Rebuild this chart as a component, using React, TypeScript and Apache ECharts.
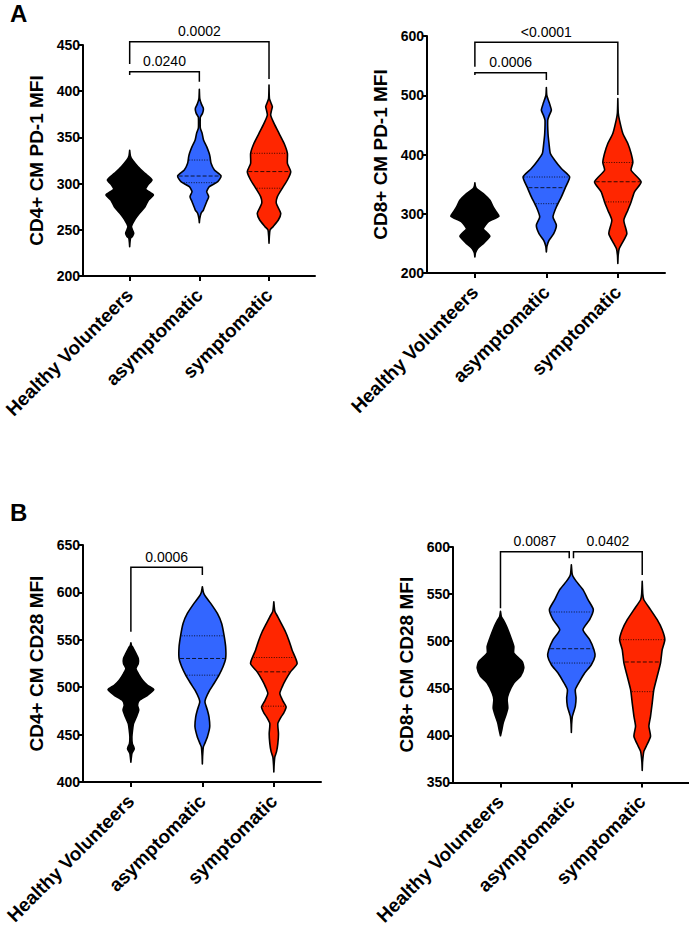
import { useEffect, useRef } from "react";
import * as echarts from "echarts";

const CATEGORIES = ["Healthy Volunteers", "asymptomatic", "symptomatic"];
const COLORS = ["#000000", "#3366FF", "#FF2600"];
const FONT = "'Liberation Sans', Arial, Helvetica, sans-serif";

// violin profiles: [value, half-width in category units], top to bottom
// Panel A left: CD4+ CM PD-1 MFI
const A1_HV = [[336,0],[330,0.01],[325.5,0.04],[318.3,0.12],[311,0.22],[304,0.32],[298.5,0.26],[293.8,0.23],[287.7,0.34],[282.3,0.27],[275,0.22],[267.8,0.14],[260.6,0.07],[253.4,0.025],[249,0.045],[246.2,0.058],[243,0.04],[240.8,0.012],[236,0.004],[231.7,0]];
const A1_ASYM = [[402,0],[392,0.006],[386,0.03],[382,0.055],[379.7,0.058],[376,0.045],[372,0.015],[368.8,0.012],[360,0.014],[354.4,0.04],[347.2,0.06],[340,0.105],[333,0.14],[329.1,0.153],[321.9,0.168],[314.7,0.216],[308.2,0.312],[302.1,0.264],[296.7,0.144],[291.3,0.105],[285.9,0.134],[280.4,0.105],[271.4,0.058],[267.8,0.024],[262,0.006],[257.7,0]];
const A1_SYM = [[406.7,0],[392,0.006],[386,0.035],[383.3,0.048],[379,0.035],[374.2,0.024],[365.2,0.072],[354.4,0.144],[343.6,0.216],[332.8,0.264],[321.9,0.264],[312.9,0.312],[303.9,0.264],[294.9,0.19],[285.9,0.12],[278.6,0.105],[267.8,0.168],[260.6,0.134],[253.4,0.058],[249.8,0.015],[243,0.005],[235.4,0]];
const A1_QUARTILES = [null, [301, 308.2, 325.5], [295, 313, 332.8]];
const A1_BRACKETS = [[0, 2, 453.6, 429.4, 413.2], [0, 1, 421.1, 417.5, 410.3]];
const A1_PVALUES = ["0.0002", "0.0240"];

// Panel A right: CD8+ CM PD-1 MFI
const A2_HV = [[352.1,0],[347,0.006],[342.5,0.023],[334.1,0.117],[322.8,0.21],[311.5,0.256],[303,0.3],[295.8,0.336],[286.2,0.186],[274.9,0.117],[268,0.17],[262,0.21],[256,0.17],[249.6,0.117],[241.1,0.037],[234,0.008],[227,0]];
const A2_ASYM = [[513.2,0],[500,0.006],[485,0.047],[474.9,0.07],[466,0.04],[458,0.019],[435.5,0.023],[418.6,0.037],[401.7,0.056],[390.4,0.117],[376.3,0.21],[362.3,0.326],[345.4,0.27],[328.5,0.21],[311.5,0.14],[294.6,0.093],[280.6,0.14],[266.5,0.103],[255.2,0.037],[245,0.008],[235.5,0]];
const A2_SYM = [[494.6,0],[470,0.006],[458,0.023],[435.5,0.07],[418.6,0.14],[401.7,0.186],[386.5,0.21],[373.5,0.186],[353.8,0.326],[336.9,0.233],[320,0.186],[306,0.14],[289,0.084],[266.5,0.126],[249.6,0.056],[241.1,0.019],[230,0.005],[216,0]];
const A2_QUARTILES = [null, [317, 344, 362], [320, 354, 386.5]];
const A2_BRACKETS = [[0, 2, 589.4, 548.2, 500.4], [0, 1, 538.1, 534.2, 525.7]];
const A2_PVALUES = ["<0.0001", "0.0006"];

// Panel B left: CD4+ CM CD28 MFI
const B1_HV = [[546.8,0],[544,0.008],[542.6,0.023],[535.6,0.07],[530.3,0.103],[525,0.103],[519.7,0.07],[514.4,0.103],[507.4,0.163],[502,0.233],[497.5,0.32],[491.5,0.233],[486,0.117],[481,0.093],[476,0.11],[470,0.084],[461.6,0.037],[454.6,0.023],[447.5,0.014],[440.5,0.02],[435.2,0.047],[430,0.014],[421,0]];
const B1_ASYM = [[606,0],[600,0.015],[595.4,0.047],[588.4,0.117],[577.8,0.21],[567.3,0.27],[555,0.303],[542.6,0.326],[530.3,0.326],[521.5,0.289],[512.7,0.233],[503.9,0.163],[496.8,0.103],[488,0.047],[484,0.037],[476,0.07],[468.7,0.093],[458,0.103],[447.5,0.07],[440.5,0.033],[437,0.014],[428,0.004],[419,0]];
const B1_SYM = [[590,0],[580,0.015],[574.3,0.056],[567.3,0.103],[558.5,0.163],[549.6,0.21],[539,0.256],[525,0.326],[516.2,0.233],[507.4,0.163],[500.4,0.117],[493.3,0.084],[485,0.13],[479.2,0.172],[473,0.14],[468.7,0.103],[461.6,0.056],[451,0.065],[440.5,0.056],[431.7,0.037],[426.4,0.014],[418,0.004],[410.6,0]];
const B1_QUARTILES = [null, [512.7, 530.3, 554.2], [480, 516.2, 531.3]];
const B1_BRACKETS = [[0, 1, 626.5, 558.5, 618.4]];
const B1_PVALUES = ["0.0006"];

// Panel B right: CD8+ CM CD28 MFI
const B2_HV = [[531.7,0],[526,0.012],[522.8,0.038],[515.8,0.085],[505.1,0.14],[494.5,0.188],[487.4,0.188],[478.5,0.305],[471.5,0.329],[462.7,0.282],[455.6,0.188],[445,0.117],[437.9,0.094],[429,0.103],[420.2,0.07],[413.1,0.038],[406,0.019],[399.6,0]];
const B2_ASYM = [[581.2,0],[572,0.01],[568.8,0.023],[563.5,0.07],[554.7,0.164],[544.1,0.235],[533.5,0.31],[522.8,0.258],[512.2,0.164],[501.6,0.258],[491,0.319],[483.9,0.333],[475,0.282],[466.2,0.188],[457.3,0.117],[448.5,0.056],[439.6,0.066],[430.8,0.056],[423.7,0.028],[420.2,0.014],[412,0.004],[403.2,0]];
const B2_SYM = [[563.5,0],[550,0.008],[544,0.023],[533.5,0.117],[522.8,0.211],[512.2,0.282],[501.6,0.319],[491,0.282],[476.8,0.258],[462.7,0.211],[448.5,0.164],[434.3,0.141],[420.2,0.117],[409.6,0.094],[399,0.117],[388.3,0.056],[383,0.023],[372,0.005],[362.8,0]];
const B2_QUARTILES = [null, [476.8, 492, 531], [446.4, 477.9, 501.6]];
const B2_BRACKETS = [[0, 0.97, 595, 535.1, 588], [1.03, 2, 595, 588, 570.3]];
const B2_PVALUES = ["0.0087", "0.0402"];

const Y_TITLES = ["CD4+ CM PD-1 MFI", "CD8+ CM PD-1 MFI", "CD4+ CM CD28 MFI", "CD8+ CM CD28 MFI"];
const Y_RANGES = [[200, 450, 50], [200, 600, 100], [400, 650, 50], [350, 600, 50]];

const PANELS = [
  { grid: { left: 83, top: 45, width: 232, height: 231 }, violins: [A1_HV, A1_ASYM, A1_SYM], quartiles: A1_QUARTILES, brackets: A1_BRACKETS, pvalues: A1_PVALUES },
  { grid: { left: 427, top: 36, width: 238, height: 237 }, violins: [A2_HV, A2_ASYM, A2_SYM], quartiles: A2_QUARTILES, brackets: A2_BRACKETS, pvalues: A2_PVALUES },
  { grid: { left: 83, top: 545, width: 238, height: 237 }, violins: [B1_HV, B1_ASYM, B1_SYM], quartiles: B1_QUARTILES, brackets: B1_BRACKETS, pvalues: B1_PVALUES },
  { grid: { left: 453, top: 547, width: 236, height: 236 }, violins: [B2_HV, B2_ASYM, B2_SYM], quartiles: B2_QUARTILES, brackets: B2_BRACKETS, pvalues: B2_PVALUES },
];

function widthAt(prof: number[][], v: number): number {
  for (let k = 0; k < prof.length - 1; k++) {
    const [v1, w1] = prof[k];
    const [v2, w2] = prof[k + 1];
    if ((v <= v1 && v >= v2) || (v >= v1 && v <= v2)) {
      if (v1 === v2) return Math.max(w1, w2);
      return w1 + ((v - v1) / (v2 - v1)) * (w2 - w1);
    }
  }
  return 0;
}

function buildOption() {
  const grids: any[] = [];
  const xAxes: any[] = [];
  const yAxes: any[] = [];
  const series: any[] = [];
  PANELS.forEach((p, pi) => {
    grids.push({ ...p.grid, containLabel: false });
    xAxes.push({
      type: "value",
      gridIndex: pi,
      min: -0.67,
      max: 2.66,
      splitLine: { show: false },
      axisLine: { show: true, onZero: false, lineStyle: { color: "#000", width: 2 } },
      axisTick: { show: true, customValues: [0, 1, 2], length: 5, lineStyle: { color: "#000", width: 2 } },
      axisLabel: {
        show: true,
        customValues: [0, 1, 2],
        rotate: 45,
        margin: 16,
        formatter: (v: number) => CATEGORIES[Math.round(v)] ?? "",
        color: "#000",
        fontSize: 19,
        fontWeight: "bold",
        fontFamily: FONT,
      },
    });
    const [mn, mx, iv] = Y_RANGES[pi];
    yAxes.push({
      type: "value",
      gridIndex: pi,
      min: mn,
      max: mx,
      interval: iv,
      name: Y_TITLES[pi],
      nameLocation: "middle",
      nameGap: 37,
      nameTextStyle: { color: "#000", fontSize: 19, fontWeight: "bold", fontFamily: FONT },
      splitLine: { show: false },
      axisLine: { show: true, onZero: false, lineStyle: { color: "#000", width: 2 } },
      axisTick: { show: true, length: 5, lineStyle: { color: "#000", width: 2 } },
      axisLabel: { color: "#000", fontSize: 14, fontWeight: "bold", fontFamily: FONT, margin: 3 },
    });
    series.push({
      type: "custom",
      xAxisIndex: pi,
      yAxisIndex: pi,
      data: [[0], [1], [2]],
      encode: { x: 0 },
      renderItem: (params: any, api: any) => {
        const i = params.dataIndex;
        const prof = p.violins[i];
        const right = prof.map(([v, w]) => api.coord([i + w, v]));
        const left = prof.slice().reverse().map(([v, w]) => api.coord([i - w, v]));
        const children: any[] = [
          {
            type: "polygon",
            shape: { points: right.concat(left), smooth: 0.2 },
            style: { fill: COLORS[i], stroke: "#000", lineWidth: 1.6, lineJoin: "round" },
          },
        ];
        const q = p.quartiles[i];
        if (q) {
          q.forEach((v: number, k: number) => {
            const w = widthAt(prof, v);
            const a = api.coord([i - w, v]);
            const b = api.coord([i + w, v]);
            children.push({
              type: "line",
              shape: { x1: a[0] + 1, y1: a[1], x2: b[0] - 1, y2: b[1] },
              style: { stroke: "rgba(0,0,0,0.8)", lineWidth: 1, lineDash: k === 1 ? [4, 2] : [1, 1.5] },
            });
          });
        }
        return { type: "group", children };
      },
    });
    series.push({
      type: "custom",
      xAxisIndex: pi,
      yAxisIndex: pi,
      data: p.brackets.map((b, k) => [b[0], b[2], k]),
      encode: { x: 0, y: 1 },
      renderItem: (params: any, api: any) => {
        const [x1, x2, y, l1, l2] = p.brackets[params.dataIndex];
        const pts = [api.coord([x1, l1]), api.coord([x1, y]), api.coord([x2, y]), api.coord([x2, l2])];
        const mid = api.coord([(x1 + x2) / 2, y]);
        return {
          type: "group",
          children: [
            { type: "polyline", shape: { points: pts }, style: { stroke: "#000", lineWidth: 1.5, fill: null } },
            {
              type: "text",
              x: mid[0],
              y: mid[1] - 10.5,
              style: {
                text: p.pvalues[params.dataIndex],
                align: "center",
                verticalAlign: "middle",
                fill: "#000",
                font: `14px ${FONT}`,
              },
            },
          ],
        };
      },
    });
  });
  return {
    animation: false,
    backgroundColor: "#fff",
    grid: grids,
    xAxis: xAxes,
    yAxis: yAxes,
    series,
    graphic: [
      { type: "text", left: 10, top: 1, style: { text: "A", fill: "#000", font: `bold 24px ${FONT}` } },
      { type: "text", left: 10, top: 500, style: { text: "B", fill: "#000", font: `bold 24px ${FONT}` } },
    ],
  };
}

export default function App() {
  const ref = useRef<HTMLDivElement>(null);
  useEffect(() => {
    if (!ref.current) return;
    const chart = echarts.init(ref.current, undefined, { renderer: "svg" });
    chart.setOption(buildOption() as any);
    return () => chart.dispose();
  }, []);
  return (
    <div
      ref={ref}
      style={{ position: "absolute", left: 0, top: 0, width: 689, height: 928, background: "#fff" }}
    />
  );
}
